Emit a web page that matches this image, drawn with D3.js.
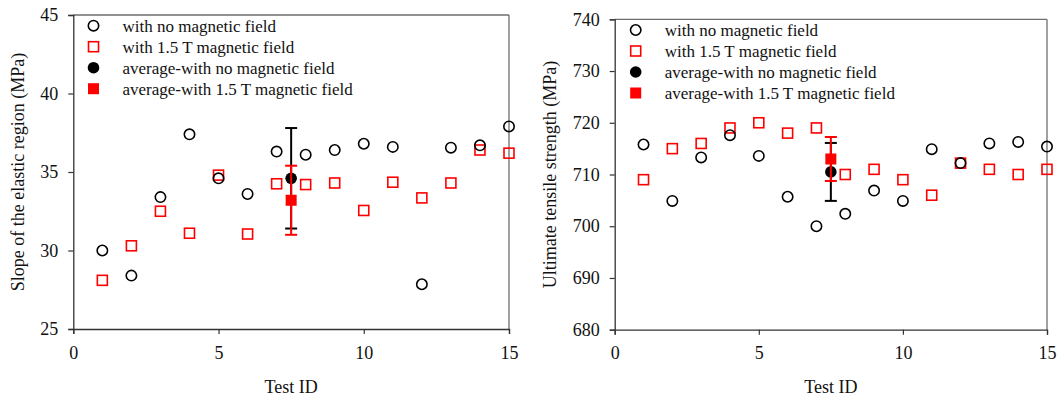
<!DOCTYPE html>
<html>
<head>
<meta charset="utf-8">
<script src="https://cdn.jsdelivr.net/npm/d3@7"></script>
<style>
  html, body { margin: 0; padding: 0; background: #fff; }
  svg { display: block; font-family: "Liberation Serif", "Times New Roman", serif; }
</style>
</head>
<body>
<svg id="chart" width="1062" height="403"></svg>
<script>
// ---- data ----
const testIds = [1, 2, 3, 4, 5, 6, 7, 8, 9, 10, 11, 12, 13, 14, 15];

const slopeNoField = [30.0, 28.4, 33.4, 37.4, 34.6, 33.6, 36.3, 36.1, 36.4, 36.8, 36.6, 27.85, 36.55, 36.7, 37.9];
const slopeField   = [28.1, 30.3, 32.5, 31.1, 34.8, 31.05, 34.25, 34.2, 34.3, 32.55, 34.35, 33.35, 34.3, 36.4, 36.2];
const slopeAvgX = 7.5;
const slopeAvgNoField = 34.6, slopeErrNoField = 3.2;
const slopeAvgField = 33.2, slopeErrField = 2.2;

const utsNoField = [715.8, 704.9, 713.3, 717.6, 713.6, 705.7, 700.0, 702.4, 706.9, 704.9, 714.9, 712.2, 716.0, 716.3, 715.4];
const utsField   = [709.0, 715.0, 716.0, 719.0, 720.0, 718.0, 719.0, 710.0, 711.0, 709.0, 706.0, 712.2, 711.0, 710.0, 711.0];
const utsAvgX = 7.5;
const utsAvgNoField = 710.5, utsErrNoField = 5.6;
const utsAvgField = 713.0, utsErrField = 4.25;

const xTicks = [0, 5, 10, 15];
const slopeTicks = [25, 30, 35, 40, 45];
const utsTicks = [680, 690, 700, 710, 720, 730, 740];

const legendLabels = [
  "with no magnetic field",
  "with 1.5 T magnetic field",
  "average-with no magnetic field",
  "average-with 1.5 T magnetic field"
];

const RED = "#ff0000";
const svg = d3.select("#chart");

function drawPanel(cfg) {
  const g = svg.append("g");
  const x = d3.scaleLinear().domain([0, 15]).range([cfg.left, cfg.right]);
  const y = d3.scaleLinear().domain(cfg.yDomain).range([cfg.bottom, cfg.top]);

  // frame top/right
  g.append("line").attr("x1", cfg.left).attr("x2", cfg.right).attr("y1", cfg.top).attr("y2", cfg.top)
    .attr("stroke", "#6e6e6e").attr("stroke-width", 1.3);
  g.append("line").attr("x1", cfg.right).attr("x2", cfg.right).attr("y1", cfg.top).attr("y2", cfg.bottom)
    .attr("stroke", "#6e6e6e").attr("stroke-width", 1.3);

  // axes
  const xAxis = g.append("g").attr("transform", `translate(0,${cfg.bottom})`)
    .call(d3.axisBottom(x).tickValues(xTicks).tickSize(5).tickPadding(12).tickFormat(d3.format("d")));
  const yAxis = g.append("g").attr("transform", `translate(${cfg.left},0)`)
    .call(d3.axisLeft(y).tickValues(cfg.yTicks).tickSize(5).tickPadding(10).tickFormat(d3.format("d")));
  [xAxis, yAxis].forEach(a => {
    a.select(".domain").attr("stroke", "#333").attr("stroke-width", 1.3);
    a.selectAll(".tick line").attr("stroke", "#333").attr("stroke-width", 1.2);
    a.selectAll("text").attr("font-size", 18).attr("fill", "#111")
      .attr("font-family", "'Liberation Serif', 'Times New Roman', serif");
  });

  // axis titles
  g.append("text").attr("x", (cfg.left + cfg.right) / 2).attr("y", 393)
    .attr("text-anchor", "middle").attr("font-size", 18).attr("fill", "#111").text("Test ID");
  g.append("text")
    .attr("transform", `translate(${cfg.yTitleX},${(cfg.top + cfg.bottom) / 2}) rotate(-90)`)
    .attr("text-anchor", "middle").attr("font-size", 18).attr("fill", "#111").text(cfg.yTitle);

  // individual points
  const sq = 10;
  g.selectAll(".sqf").data(testIds.map((t, i) => [t, cfg.field[i]])).enter().append("rect")
    .attr("x", d => x(d[0]) - sq / 2).attr("y", d => y(d[1]) - sq / 2)
    .attr("width", sq).attr("height", sq)
    .attr("fill", "none").attr("stroke", RED).attr("stroke-width", 1.6);
  g.selectAll(".cnf").data(testIds.map((t, i) => [t, cfg.noField[i]])).enter().append("circle")
    .attr("cx", d => x(d[0])).attr("cy", d => y(d[1])).attr("r", 5.2)
    .attr("fill", "none").attr("stroke", "#000").attr("stroke-width", 1.6);

  // averages with error bars
  function errBar(cx, mean, err, color) {
    const x0 = x(cx), cap = 6;
    g.append("line").attr("x1", x0).attr("x2", x0).attr("y1", y(mean - err)).attr("y2", y(mean + err))
      .attr("stroke", color).attr("stroke-width", 2);
    [mean - err, mean + err].forEach(v => {
      g.append("line").attr("x1", x0 - cap).attr("x2", x0 + cap).attr("y1", y(v)).attr("y2", y(v))
        .attr("stroke", color).attr("stroke-width", 2);
    });
  }
  errBar(cfg.avgX, cfg.avgNoField, cfg.errNoField, "#000");
  g.append("circle").attr("cx", x(cfg.avgX)).attr("cy", y(cfg.avgNoField)).attr("r", 5.8).attr("fill", "#000");
  errBar(cfg.avgX, cfg.avgField, cfg.errField, RED);
  g.append("rect").attr("x", x(cfg.avgX) - 5.5).attr("y", y(cfg.avgField) - 5.5)
    .attr("width", 11).attr("height", 11).attr("fill", RED);

  // legend
  const lg = g.append("g");
  legendLabels.forEach((lab, i) => {
    const ly = cfg.legendY + i * 21;
    const mx = cfg.legendX;
    if (i === 0) lg.append("circle").attr("cx", mx).attr("cy", ly).attr("r", 5.2)
      .attr("fill", "none").attr("stroke", "#000").attr("stroke-width", 1.6);
    if (i === 1) lg.append("rect").attr("x", mx - 5).attr("y", ly - 5).attr("width", 10).attr("height", 10)
      .attr("fill", "none").attr("stroke", RED).attr("stroke-width", 1.6);
    if (i === 2) lg.append("circle").attr("cx", mx).attr("cy", ly).attr("r", 5.8).attr("fill", "#000");
    if (i === 3) lg.append("rect").attr("x", mx - 5.5).attr("y", ly - 5.5).attr("width", 11).attr("height", 11)
      .attr("fill", RED);
    lg.append("text").attr("x", mx + 29).attr("y", ly).attr("dy", "0.35em")
      .attr("font-size", 17).attr("fill", "#111").text(lab);
  });
}

drawPanel({
  left: 73.3, right: 509, top: 15, bottom: 329,
  yDomain: [25, 45], yTicks: slopeTicks,
  yTitle: "Slope of the elastic region (MPa)", yTitleX: 24,
  noField: slopeNoField, field: slopeField,
  avgX: slopeAvgX, avgNoField: slopeAvgNoField, errNoField: slopeErrNoField,
  avgField: slopeAvgField, errField: slopeErrField,
  legendX: 93.5, legendY: 25.7
});

drawPanel({
  left: 614.7, right: 1047, top: 19.3, bottom: 329.7,
  yDomain: [680, 740], yTicks: utsTicks,
  yTitle: "Ultimate tensile strength (MPa)", yTitleX: 556,
  noField: utsNoField, field: utsField,
  avgX: utsAvgX, avgNoField: utsAvgNoField, errNoField: utsErrNoField,
  avgField: utsAvgField, errField: utsErrField,
  legendX: 635.7, legendY: 30
});
</script>
</body>
</html>
